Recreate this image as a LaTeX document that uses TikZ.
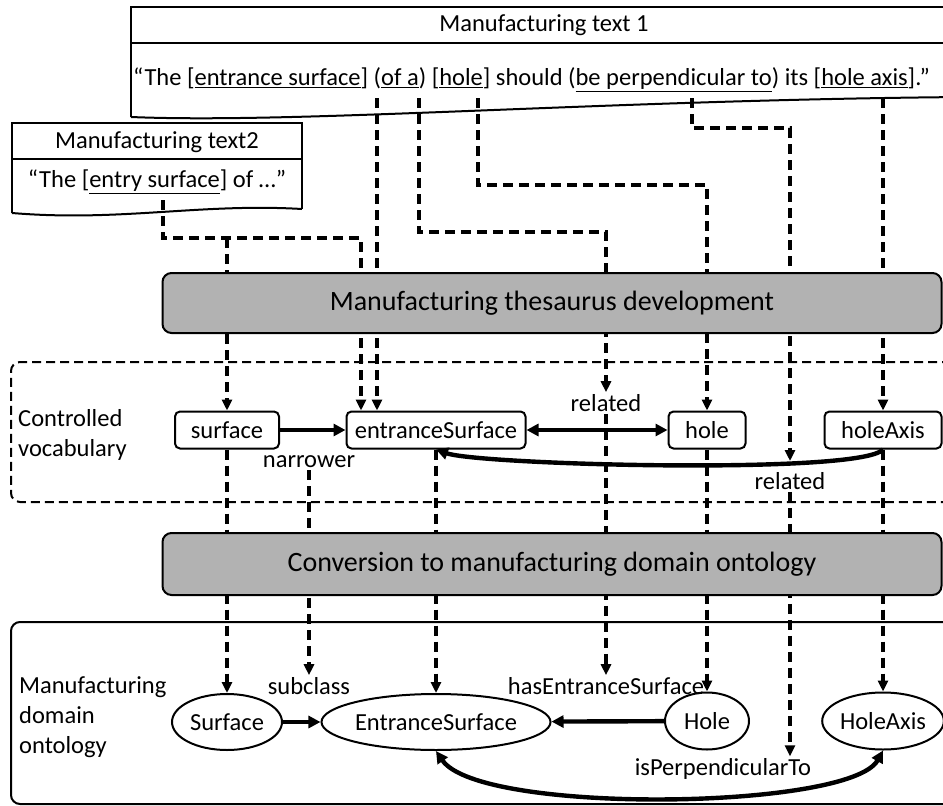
\documentclass[tikz,border=0pt]{standalone}
\usepackage{fontspec}
\setmainfont{Carlito}
\usetikzlibrary{arrows.meta,shapes.geometric}

\tikzset{
    docline/.style={line width=2pt},
    vocab/.style={draw,rounded corners=5pt,line width=2pt,minimum height=37pt,inner sep=2pt},
    onto/.style={draw,ellipse,line width=2pt,inner sep=0pt,minimum height=56pt},
    procbox/.style={draw,fill=black!30,rounded corners=9pt,line width=2pt,font=\fontsize{28}{32}\selectfont},
    lbl/.style={inner sep=2pt},
    link/.style={line width=3.4pt,dash pattern=on 10pt off 6pt,-{Triangle[length=11pt,width=10pt]}},
    rel/.style={line width=4.4pt,-{Triangle[length=12pt,width=12pt]}},
    relboth/.style={line width=4.4pt,{Triangle[length=12pt,width=12pt]}-{Triangle[length=12pt,width=12pt]}}
}

\begin{document}
\begin{tikzpicture}[x=1pt,y=-1pt,font=\fontsize{24.5}{30}\selectfont]
    \useasboundingbox (0,0) rectangle (943,806);
    \clip (0,0) rectangle (943,806);
    %% Manufacturing text 1
    \draw[docline] (131,117) -- (131,7) -- (965,7) (131,43) -- (965,43);
    \draw[docline] (131,117) .. controls (300,124) and (600,100) .. (965,97);
    \node (title1) at (544,25) {Manufacturing text 1};
    \node[anchor=west,inner sep=0pt] (quote1) at (133,80) {“The [\underline{entrance surface}] (\underline{of a}) [\underline{hole}] should (\underline{be perpendicular to}) its [\underline{hole axis}].”};
    %% Manufacturing text 2
    \draw[docline] (12,213) -- (12,123) -- (302,123) -- (302,209) (12,159) -- (302,159);
    \draw[docline] (12,213) .. controls (120,222) and (200,203) .. (302,209);
    \node (title2) at (157,142) {Manufacturing text2};
    \node (quote2) at (157,182) {“The [\underline{entry surface}] of …”};

    %% Controlled vocabulary
    \draw[docline,dash pattern=on 9pt off 5pt,rounded corners=9pt] (965,362) -- (11,362) -- (11,502) -- (965,502);
    \node[lbl,align=left,anchor=west] (cvLbl) at (16,435) {Controlled\\vocabulary};
    \node[vocab,minimum width=104pt] (surface) at (227,430) {surface};
    \node[vocab,minimum width=179pt] (entranceSurface) at (436,430) {entranceSurface};
    \node[vocab,minimum width=77pt] (hole) at (707,430) {hole};
    \node[vocab,minimum width=117pt] (holeAxis) at (883,430) {holeAxis};
    \node[lbl] (narrower) at (309,462) {narrower};
    \node[lbl] (relA) at (606,403) {related};
    \node[lbl] (relB) at (790,481) {related};

    %% Manufacturing domain ontology
    \draw[docline,rounded corners=9pt] (965,622) -- (11,622) -- (11,804) -- (965,804);
    \node[lbl,align=left,anchor=west] (mdoLbl) at (17,717) {Manufacturing\\domain\\ontology};
    \node[onto,minimum width=110pt] (Surface) at (227,722) {Surface};
    \node[onto,minimum width=228pt] (EntranceSurface) at (436,722) {EntranceSurface};
    \node[onto,minimum width=84pt,minimum height=57pt] (Hole) at (707,721) {Hole};
    \node[onto,minimum width=121pt,minimum height=57pt] (HoleAxis) at (883,721) {HoleAxis};
    \node[lbl] (subclass) at (309,686) {subclass};
    \node[lbl] (hasES) at (606,686) {hasEntranceSurface};
    \node[lbl] (isPerp) at (723,769) {isPerpendicularTo};

    %% Links from the texts
    \coordinate (es2) at (163,200);
    \coordinate (es2j) at (163,238);
    \coordinate (es2k) at (361,238);
    \coordinate (es2b) at (227,238);
    \draw[link] (es2) -- (es2j) -- (es2k) -- (es2k |- entranceSurface.north);
    \draw[link] (es2b) -- (surface.north);
    \coordinate (es1) at (377,98);
    \draw[link] (es1) -- (es1 |- entranceSurface.north);
    \coordinate (ofa) at (419,98);
    \coordinate (ofaj) at (419,232);
    \coordinate (ofak) at (606,232);
    \draw[link] (ofa) -- (ofaj) -- (ofak) -- (relA.north);
    \coordinate (hl) at (478,98);
    \coordinate (hlj) at (478,185);
    \coordinate (hlk) at (707,185);
    \draw[link] (hl) -- (hlj) -- (hlk) -- (hole.north);
    \coordinate (perp) at (692,98);
    \coordinate (perpj) at (692,128);
    \coordinate (perpk) at (790,128);
    \coordinate (perpEnd) at (790,461);
    \draw[link] (perp) -- (perpj) -- (perpk) -- (perpEnd);
    \coordinate (ax) at (883,98);
    \draw[link] (ax) -- (holeAxis.north);

    %% Links from the vocabulary to the ontology
    \draw[link] (surface.south) -- (Surface.north);
    \draw[link] (narrower.south) -- (subclass.north);
    \draw[link] (entranceSurface.south) -- (EntranceSurface.north);
    \draw[link] (relA.south) -- (hasES.north);
    \draw[link] (hole.south) -- (Hole.north);
    \draw[link] (relB.south) -- (relB.south |- isPerp.north);
    \draw[link] (holeAxis.south) -- (HoleAxis.north);

    %% Process boxes
    \node[procbox,minimum width=779pt,minimum height=60pt] (thesaurus) at (552,303) {Manufacturing thesaurus development};
    \node[procbox,minimum width=779pt,minimum height=62pt] (conversion) at (552,564) {Conversion to manufacturing domain ontology};

    %% Relations
    \draw[rel] (surface) -- (entranceSurface);
    \draw[relboth] (entranceSurface) -- (hole);
    \draw[rel] (holeAxis.south) .. controls (860,475) and (480,465) .. (entranceSurface.south);
    \draw[rel] (Surface) -- (EntranceSurface);
    \draw[rel] (Hole) -- (EntranceSurface);
    \draw[relboth] (EntranceSurface.south) .. controls (480,815) and (850,810) .. (HoleAxis.south);
\end{tikzpicture}
\end{document}
